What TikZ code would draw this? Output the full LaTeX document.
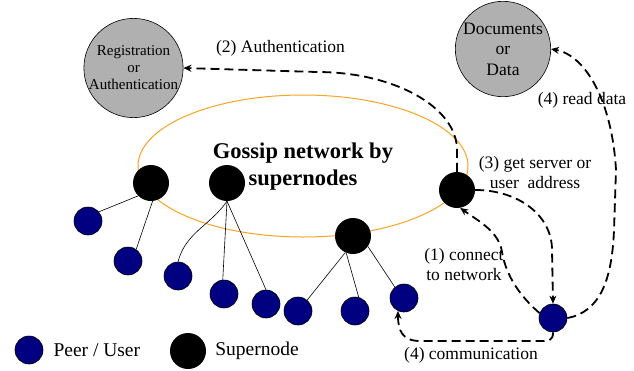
\documentclass[tikz,border=0pt]{standalone}
\usepackage{fontspec}
\setmainfont{Liberation Serif}
\usetikzlibrary{arrows.meta, positioning}
\definecolor{peerblue}{RGB}{0, 0, 128}
\definecolor{ringorange}{RGB}{247, 163, 35}
\definecolor{servergray}{RGB}{176, 176, 176}
\tikzset{
  >=Stealth,
  peer/.style={circle, draw=black, line width=0.6pt, fill=peerblue, minimum size=28pt, inner sep=0pt},
  super/.style={circle, fill=black, minimum size=36pt, inner sep=0pt},
  server/.style={circle, draw=black, line width=0.6pt, fill=servergray, minimum size=88pt, inner sep=0pt, align=center},
  link/.style={line width=0.6pt, black},
  msgarrow/.style={-{Stealth[length=8pt, width=7pt]}, line width=1.8pt, dash pattern=on 9pt off 5pt},
  msglabel/.style={inner sep=0pt, font=\fontsize{17.5}{20}\selectfont, align=center},
  keylabel/.style={inner sep=0pt, font=\fontsize{19.5}{22}\selectfont}
}

\begin{document}
\begin{tikzpicture}[x=1pt, y=-1pt]
    \useasboundingbox (0,0) rectangle (634,370);
    % gossip ring
    \draw[ringorange, line width=1pt] (303,166) ellipse [x radius=165, y radius=71];
    \node (gossip) [msglabel, font=\fontsize{22.5}{27}\selectfont\bfseries] at (303,167) {Gossip network by\\supernodes};
    % servers
    \node (reg) [server, font=\fontsize{15}{17}\selectfont] at (133.5,68) {Registration\\or\\Authentication};
    \node (docs) [server, font=\fontsize{17.5}{20.5}\selectfont] at (503,49) {Documents\\or\\Data};
    % supernodes
    \node (s1) [super] at (151,183) {};
    \node (s2) [super] at (227,183) {};
    \node (s3) [super] at (457,190) {};
    \node (s4) [super] at (353,236) {};
    % peers
    \node (p1) [peer] at (88,221) {};
    \node (p2) [peer] at (128,261) {};
    \node (p3) [peer] at (178,276) {};
    \node (p4) [peer] at (224,294) {};
    \node (p5) [peer] at (266,304) {};
    \node (p6) [peer] at (298,311) {};
    \node (p7) [peer] at (355,311) {};
    \node (p8) [peer] at (404,298) {};
    \node (user) [peer] at (553,318) {};
    \draw[link] (s1.225) -- (p1.40);
    \draw[link] (s1.275) -- (p2.55);
    \draw[link] (s2.south) to[out=235, in=75] (p3.north);
    \draw[link] (s2.south) -- (p4.95);
    \draw[link] (s2.south) -- (p5.north);
    \draw[link] (s4.245) -- (p6.50);
    \draw[link] (s4.248) -- (p7.75);
    \draw[link] (s4.-35) -- (p8.130);
    % messages
    \draw[msgarrow] (s3.north) -- (457,150) .. controls (457,107) and (394,72) .. (317,72) -- (reg.east);
    \node (authlabel) [msglabel] at (280.5,48) {(2) Authentication};
    \draw[msgarrow] (s3.east) .. controls (518,190) and (552,215) .. (552,250) -- (user.north);
    \node (getlabel) [msglabel] at (535,173) {(3) get server or\\user\hspace{0.25em} address};
    \draw[msgarrow] (user.160) .. controls (515,292) and (505,270) .. (502,252) .. controls (499,232) and (480,222) .. (s3.-80);
    \node (connlabel) [msglabel] at (464,265) {(1) connect\\to network};
    \draw[msgarrow] (user.south) .. controls (553,340) and (550,341) .. (540,341) -- (420,341) .. controls (402,341) and (398,330) .. (p8.-115);
    \node (commlabel) [msglabel] at (471,355) {(4) communication};
    \draw[msgarrow] (user.east) .. controls (600,312) and (612,280) .. (614,230) -- (616,170) .. controls (612,100) and (585,55) .. (docs.east);
    \node (readlabel) [msglabel] at (582,100) {(4) read data};
    % legend
    \node (peerkey) [peer] at (29,350) {};
    \node (peerkeytext) [keylabel, right=10pt of peerkey] {Peer / User};
    \node (superkey) [super] at (188,351) {};
    \node (superkeytext) [keylabel, right=9pt of superkey] {Supernode};
\end{tikzpicture}
\end{document}
